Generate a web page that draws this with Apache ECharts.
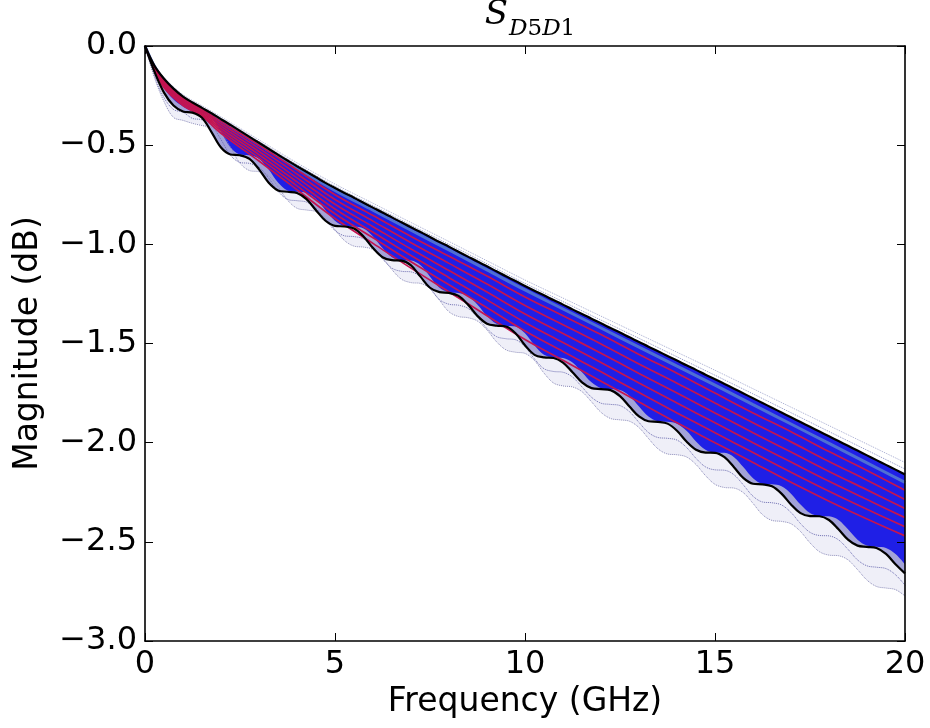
<!DOCTYPE html>
<html>
<head>
<meta charset="utf-8">
<script src="https://cdn.jsdelivr.net/npm/echarts@6/dist/echarts.min.js"></script>
<style>html,body{margin:0;padding:0;background:#fff}#c{width:930px;height:728px}</style>
</head>
<body>
<div id="c"></div>
<script>
// Frequency grids (GHz)
const freqFine = [0,0.25,0.5,0.75,1,1.25,1.5,1.75,2,2.25,2.5,2.75,3,3.25,3.5,3.75,4,4.25,4.5,4.75,5,5.25,5.5,5.75,6,6.25,6.5,6.75,7,7.25,7.5,7.75,8,8.25,8.5,8.75,9,9.25,9.5,9.75,10,10.25,10.5,10.75,11,11.25,11.5,11.75,12,12.25,12.5,12.75,13,13.25,13.5,13.75,14,14.25,14.5,14.75,15,15.25,15.5,15.75,16,16.25,16.5,16.75,17,17.25,17.5,17.75,18,18.25,18.5,18.75,19,19.25,19.5,19.75,20];
const freqCoarse = [0,0.25,0.5,1,1.5,2,3,4,5,6,7,8,9,10,11,12,13,14,15,16,17,18,19,20];

// Upper black envelope (dB)
const upperBlack = [0,-0.10,-0.165,-0.215,-0.255,-0.285,-0.312,-0.339,-0.369,-0.398,-0.428,-0.458,-0.488,-0.518,-0.548,-0.577,-0.606,-0.634,-0.662,-0.69,-0.716,-0.741,-0.765,-0.790,-0.815,-0.840,-0.864,-0.889,-0.914,-0.938,-0.963,-0.988,-1.012,-1.037,-1.062,-1.087,-1.111,-1.136,-1.161,-1.185,-1.210,-1.234,-1.257,-1.281,-1.304,-1.328,-1.351,-1.375,-1.398,-1.422,-1.445,-1.469,-1.492,-1.516,-1.539,-1.563,-1.586,-1.610,-1.633,-1.657,-1.680,-1.704,-1.728,-1.752,-1.776,-1.800,-1.824,-1.848,-1.872,-1.896,-1.920,-1.944,-1.968,-1.992,-2.016,-2.040,-2.064,-2.088,-2.112,-2.136,-2.160];
// Lower black (rippled) envelope (dB)
const lowerBlack = [0,-0.13,-0.235,-0.30,-0.330,-0.336,-0.362,-0.434,-0.512,-0.547,-0.551,-0.569,-0.622,-0.688,-0.728,-0.735,-0.741,-0.772,-0.828,-0.881,-0.907,-0.910,-0.920,-0.960,-1.019,-1.065,-1.080,-1.082,-1.106,-1.163,-1.219,-1.241,-1.245,-1.260,-1.304,-1.361,-1.400,-1.410,-1.414,-1.448,-1.509,-1.557,-1.570,-1.573,-1.596,-1.645,-1.696,-1.725,-1.730,-1.735,-1.765,-1.818,-1.868,-1.892,-1.895,-1.904,-1.940,-1.994,-2.036,-2.050,-2.051,-2.073,-2.124,-2.179,-2.207,-2.210,-2.220,-2.257,-2.312,-2.355,-2.370,-2.371,-2.390,-2.437,-2.489,-2.519,-2.525,-2.531,-2.561,-2.613,-2.659];
// Lower edge of the dense blue bundle (dB)
const blueEdge = [0,-0.12,-0.21,-0.27,-0.305,-0.33,-0.336,-0.362,-0.434,-0.512,-0.547,-0.551,-0.569,-0.622,-0.688,-0.728,-0.735,-0.741,-0.772,-0.828,-0.881,-0.907,-0.910,-0.920,-0.960,-1.019,-1.065,-1.080,-1.082,-1.106,-1.163,-1.219,-1.241,-1.245,-1.260,-1.304,-1.361,-1.400,-1.410,-1.414,-1.448,-1.509,-1.557,-1.570,-1.573,-1.596,-1.645,-1.696,-1.725,-1.730,-1.735,-1.765,-1.818,-1.868,-1.892,-1.895,-1.904,-1.940,-1.994,-2.036,-2.050,-2.051,-2.073,-2.124,-2.179,-2.207,-2.210,-2.220,-2.257,-2.312,-2.355,-2.370,-2.371,-2.390,-2.437,-2.489,-2.519,-2.525,-2.531,-2.561,-2.613];
// Dotted traces below the lower envelope (dB)
const dotLowA = [0,-0.15,-0.26,-0.32,-0.334,-0.365,-0.372,-0.399,-0.472,-0.551,-0.587,-0.592,-0.611,-0.665,-0.732,-0.773,-0.780,-0.787,-0.819,-0.876,-0.930,-0.957,-0.961,-0.972,-1.013,-1.073,-1.120,-1.136,-1.139,-1.164,-1.222,-1.279,-1.302,-1.307,-1.323,-1.368,-1.425,-1.465,-1.476,-1.481,-1.516,-1.578,-1.627,-1.641,-1.645,-1.669,-1.719,-1.771,-1.801,-1.807,-1.813,-1.844,-1.898,-1.949,-1.974,-1.978,-1.987,-2.024,-2.079,-2.122,-2.137,-2.139,-2.162,-2.214,-2.270,-2.299,-2.303,-2.314,-2.352,-2.408,-2.452,-2.468,-2.470,-2.490,-2.538,-2.591,-2.621,-2.628,-2.635,-2.666,-2.719];
const dotLowB = [0,-0.16,-0.28,-0.36,-0.375,-0.39,-0.401,-0.409,-0.437,-0.511,-0.591,-0.628,-0.634,-0.654,-0.709,-0.777,-0.818,-0.827,-0.835,-0.868,-0.926,-0.981,-1.009,-1.014,-1.026,-1.068,-1.128,-1.176,-1.193,-1.197,-1.223,-1.282,-1.340,-1.364,-1.370,-1.387,-1.432,-1.491,-1.532,-1.544,-1.550,-1.586,-1.649,-1.699,-1.714,-1.719,-1.743,-1.794,-1.847,-1.878,-1.885,-1.892,-1.924,-1.979,-2.031,-2.057,-2.061,-2.072,-2.110,-2.166,-2.210,-2.226,-2.229,-2.253,-2.306,-2.363,-2.392,-2.397,-2.409,-2.448,-2.505,-2.550,-2.567,-2.570,-2.591,-2.640,-2.693,-2.725,-2.733,-2.741,-2.773];

// Coarse-grid traces (dB)
const red1 = [0,-0.105,-0.17,-0.26,-0.32,-0.38,-0.50,-0.625,-0.75,-0.855,-0.96,-1.06,-1.16,-1.265,-1.36,-1.455,-1.555,-1.65,-1.75,-1.85,-1.945,-2.045,-2.14,-2.24];
const red2 = [0,-0.108,-0.178,-0.268,-0.327,-0.392,-0.516,-0.645,-0.774,-0.883,-0.992,-1.096,-1.2,-1.308,-1.405,-1.502,-1.603,-1.70,-1.80,-1.90,-1.996,-2.095,-2.189,-2.286];
const red3 = [0,-0.111,-0.186,-0.276,-0.334,-0.404,-0.532,-0.665,-0.798,-0.911,-1.024,-1.132,-1.24,-1.351,-1.45,-1.549,-1.651,-1.75,-1.85,-1.95,-2.047,-2.145,-2.238,-2.332];
const red4 = [0,-0.114,-0.194,-0.284,-0.341,-0.416,-0.548,-0.685,-0.822,-0.939,-1.056,-1.168,-1.28,-1.394,-1.495,-1.596,-1.699,-1.80,-1.90,-2.0,-2.098,-2.195,-2.287,-2.378];
const red5 = [0,-0.117,-0.202,-0.292,-0.348,-0.428,-0.564,-0.705,-0.846,-0.967,-1.088,-1.204,-1.32,-1.437,-1.54,-1.643,-1.747,-1.85,-1.95,-2.05,-2.149,-2.245,-2.336,-2.424];
const red6 = [0,-0.12,-0.21,-0.30,-0.355,-0.44,-0.58,-0.725,-0.87,-0.995,-1.12,-1.24,-1.36,-1.48,-1.585,-1.69,-1.795,-1.9,-2.0,-2.1,-2.2,-2.295,-2.385,-2.47];
const steelLine = [0,-0.103,-0.17,-0.261,-0.318,-0.376,-0.496,-0.616,-0.728,-0.828,-0.929,-1.028,-1.129,-1.23,-1.326,-1.422,-1.518,-1.614,-1.71,-1.808,-1.906,-2.004,-2.102,-2.20];
const dotHigh1 = [0,-0.099,-0.162,-0.25,-0.307,-0.364,-0.481,-0.598,-0.707,-0.805,-0.903,-1.0,-1.098,-1.197,-1.289,-1.382,-1.474,-1.567,-1.66,-1.754,-1.849,-1.944,-2.038,-2.133];
const dotHigh2 = [0,-0.097,-0.159,-0.245,-0.301,-0.357,-0.473,-0.589,-0.696,-0.793,-0.89,-0.986,-1.083,-1.18,-1.271,-1.362,-1.453,-1.544,-1.635,-1.728,-1.821,-1.914,-2.007,-2.10];

const xTicks = [0,5,10,15,20];
const yTicks = [0,-0.5,-1.0,-1.5,-2.0,-2.5,-3.0];

const zip = (xs, ys) => xs.map((x, i) => [x, ys[i]]);
// lowest of the dotted traces and the lower envelope, bounding the faint dotted zone
const faintEdge = lowerBlack.map((v, i) => Math.min(v, dotLowA[i], dotLowB[i]));

const FONT = 'DejaVu Sans';
const chart = echarts.init(document.getElementById('c'), null, {renderer: 'canvas'});

function line(name, xs, ys, color, width, type, z, smooth) {
  return {
    name, type: 'line', data: zip(xs, ys), showSymbol: false, symbol: 'none',
    smooth: smooth === undefined ? 0.35 : smooth, z: z, silent: true,
    lineStyle: {color, width, type: type || 'solid'}
  };
}
// filled region from a trace down to the bottom of the axis; later fills paint over earlier ones
function fill(name, ys, color) {
  return {
    name, type: 'line', data: zip(freqFine, ys), showSymbol: false, symbol: 'none',
    smooth: 0.35, z: 1, silent: true, lineStyle: {width: 0, opacity: 0},
    areaStyle: {color, opacity: 1, origin: 'start'}
  };
}

const RED = '#c41450';
const series = [
  fill('blueBundle', upperBlack, '#1f1fe6'),
  fill('lavender', blueEdge, '#a3a3d8'),
  fill('faint', lowerBlack, '#efeff8'),
  fill('white', faintEdge, '#ffffff'),
  line('dotLowA', freqFine, dotLowA, '#6c6cb0', 1, 'dotted', 2),
  line('dotLowB', freqFine, dotLowB, '#8a8ab8', 1, 'dotted', 2),
  line('dotHigh1', freqCoarse, dotHigh1, '#8c93c4', 1, 'dotted', 2),
  line('dotHigh2', freqCoarse, dotHigh2, '#a7acd0', 1, 'dotted', 2),
  line('steel', freqCoarse, steelLine, '#4f6fd2', 3, 'solid', 3),
  line('red1', freqCoarse, red1, RED, 1.7, 'solid', 4),
  line('red2', freqCoarse, red2, RED, 1.7, 'solid', 4),
  line('red3', freqCoarse, red3, RED, 1.7, 'solid', 4),
  line('red4', freqCoarse, red4, RED, 1.7, 'solid', 4),
  line('red5', freqCoarse, red5, RED, 1.7, 'solid', 4),
  line('red6', freqCoarse, red6, RED, 1.7, 'solid', 4),
  line('upperBlack', freqFine, upperBlack, '#000000', 2.2, 'solid', 5),
  line('lowerBlack', freqFine, lowerBlack, '#000000', 2.2, 'solid', 5)
];

const axisCommon = {
  z: 10,
  axisLine: {show: true, onZero: false, lineStyle: {color: '#000', width: 1.6}},
  axisTick: {show: true, inside: true, length: 8, lineStyle: {color: '#000', width: 1}},
  splitLine: {show: false}
};

const fmtY = v => (v < 0 ? '\u2212' : '') + Math.abs(v).toFixed(1);

chart.setOption({
  animation: false,
  backgroundColor: '#ffffff',
  title: {
    text: '{s|S}{i|D}{n|5}{i|D}{n|1}',
    left: 525, top: 0, textAlign: 'center',
    textStyle: {
      fontWeight: 'normal',
      rich: {
        s: {fontFamily: 'DejaVu Serif', fontStyle: 'italic', fontWeight: 'normal', fontSize: 34, verticalAlign: 'bottom', lineHeight: 36, padding: [0, 1, 9, 0], color: '#000'},
        i: {fontFamily: 'DejaVu Serif', fontStyle: 'italic', fontWeight: 'normal', fontSize: 23, verticalAlign: 'bottom', lineHeight: 26, color: '#000'},
        n: {fontFamily: 'DejaVu Serif', fontWeight: 'normal', fontSize: 23, verticalAlign: 'bottom', lineHeight: 26, color: '#000'}
      }
    }
  },
  grid: {left: 145, right: 25, top: 46, bottom: 87, containLabel: false},
  xAxis: [
    Object.assign({
      type: 'value', min: 0, max: 20, interval: 5, position: 'bottom',
      name: 'Frequency (GHz)', nameLocation: 'middle', nameGap: 44,
      nameTextStyle: {fontFamily: FONT, fontSize: 33, color: '#000'},
      axisLabel: {fontFamily: FONT, fontSize: 32, color: '#000', margin: 8,
        formatter: v => xTicks.includes(v) ? String(v) : ''}
    }, axisCommon),
    Object.assign({
      type: 'value', min: 0, max: 20, interval: 5, position: 'top',
      axisLabel: {show: false}
    }, axisCommon)
  ],
  yAxis: [
    Object.assign({
      type: 'value', min: -3, max: 0, interval: 0.5, position: 'left',
      name: 'Magnitude (dB)', nameLocation: 'middle', nameGap: 100,
      nameTextStyle: {fontFamily: FONT, fontSize: 33, color: '#000'},
      axisLabel: {fontFamily: FONT, fontSize: 32, color: '#000', margin: 8,
        formatter: v => yTicks.some(t => Math.abs(t - v) < 1e-9) ? fmtY(v) : ''}
    }, axisCommon),
    Object.assign({
      type: 'value', min: -3, max: 0, interval: 0.5, position: 'right',
      axisLabel: {show: false}
    }, axisCommon)
  ],
  series: series
});
</script>
</body>
</html>
